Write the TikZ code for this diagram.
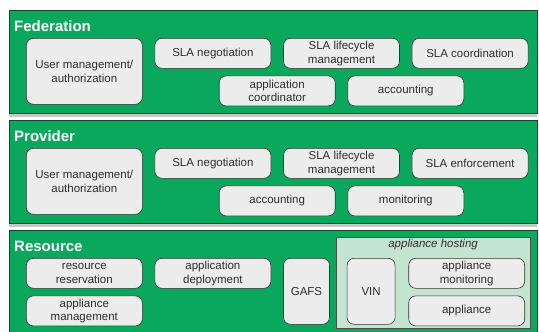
\documentclass[tikz,border=0pt]{standalone}
\usepackage{fontspec}
\setmainfont{Liberation Sans}
\usepackage{tikz}
\usetikzlibrary{positioning, shadows}
\definecolor{Verde}{RGB}{10,168,92}
\definecolor{VerdeOscuro}{RGB}{20,70,40}
\definecolor{Menta}{RGB}{196,228,210}
\definecolor{GrisCaja}{RGB}{236,236,236}
\definecolor{Texto}{RGB}{45,45,45}

\begin{document}
\begin{tikzpicture}[
  x=1pt, y=-1pt,
  node distance=12pt,
  layer/.style={
    draw=VerdeOscuro, fill=Verde, line width=0.8pt,
    minimum width=528pt, anchor=north west,
    inner sep=0pt,
    drop shadow={shadow xshift=0pt, shadow yshift=-4pt,
      fill=black, opacity=0.22}
  },
  title/.style={
    text=white, font=\fontsize{15}{17}\selectfont\bfseries,
    inner sep=0pt, anchor=base west
  },
  box/.style={
    draw=black!80, rounded corners=7pt,
    fill=GrisCaja, text=Texto, line width=0.6pt,
    minimum width=116pt, minimum height=30pt,
    align=center, inner sep=1pt,
    font=\fontsize{11.5}{13.5}\selectfont
  },
  tall/.style={minimum height=66pt},
  host/.style={
    draw=black!70, fill=Menta, line width=0.6pt,
    minimum width=194pt, minimum height=91pt,
    inner sep=0pt
  }
]
\useasboundingbox (0,0) rectangle (539,332);

\node[layer, minimum height=103pt] (fed) at (9,10) {};
\node[title] (fedtit) at ([shift={(5,21)}]fed.north west) {Federation};
\node[box, tall, below right=28pt and 17pt of fed.north west, anchor=north west]
  (fedum) {User management/\\authorization};
\node[box, right=of fedum.north east, anchor=north west] (fedneg) {SLA negotiation};
\node[box, right=of fedneg] (fedlife) {SLA lifecycle\\management};
\node[box, right=of fedlife] (fedcoord) {SLA coordination};
\node[box, below=7pt of fedneg.south east, xshift=6pt] (fedapp)
  {application\\coordinator};
\node[box, below=7pt of fedlife.south east, xshift=6pt] (fedacc) {accounting};

\node[layer, minimum height=103pt] (prov) at (9,120) {};
\node[title] (provtit) at ([shift={(5,21)}]prov.north west) {Provider};
\node[box, tall, below right=28pt and 17pt of prov.north west, anchor=north west]
  (provum) {User management/\\authorization};
\node[box, right=of provum.north east, anchor=north west] (provneg) {SLA negotiation};
\node[box, right=of provneg] (provlife) {SLA lifecycle\\management};
\node[box, right=of provlife] (provenf) {SLA enforcement};
\node[box, below=7pt of provneg.south east, xshift=6pt] (provacc) {accounting};
\node[box, below=7pt of provlife.south east, xshift=6pt] (provmon) {monitoring};

\node[layer, minimum height=110pt] (res) at (9,230) {};
\node[title] (restit) at ([shift={(5,21)}]res.north west) {Resource};
\node[box, below right=28pt and 17pt of res.north west, anchor=north west]
  (resres) {resource\\reservation};
\node[box, below=7pt of resres] (resmgmt) {appliance\\management};
\node[box, right=of resres] (resdep) {application\\deployment};
\node[box, tall, minimum width=46pt, right=of resdep.north east, anchor=north west]
  (gafs) {GAFS};
\node[host, right=6pt of gafs.north east, anchor=north west, yshift=21pt] (hosting) {};
\node[font=\fontsize{11.5}{13.5}\selectfont\itshape, text=Texto, anchor=north,
  inner sep=2pt] (hosttit) at (hosting.north) {appliance hosting};
\node[box, tall, minimum width=48pt, right=11pt of hosting.west |- gafs.north,
  anchor=north west] (vin) {VIN};
\node[box, right=13pt of vin.north east, anchor=north west] (appmon)
  {appliance\\monitoring};
\node[box, below=7pt of appmon] (appl) {appliance};

\end{tikzpicture}
\end{document}
